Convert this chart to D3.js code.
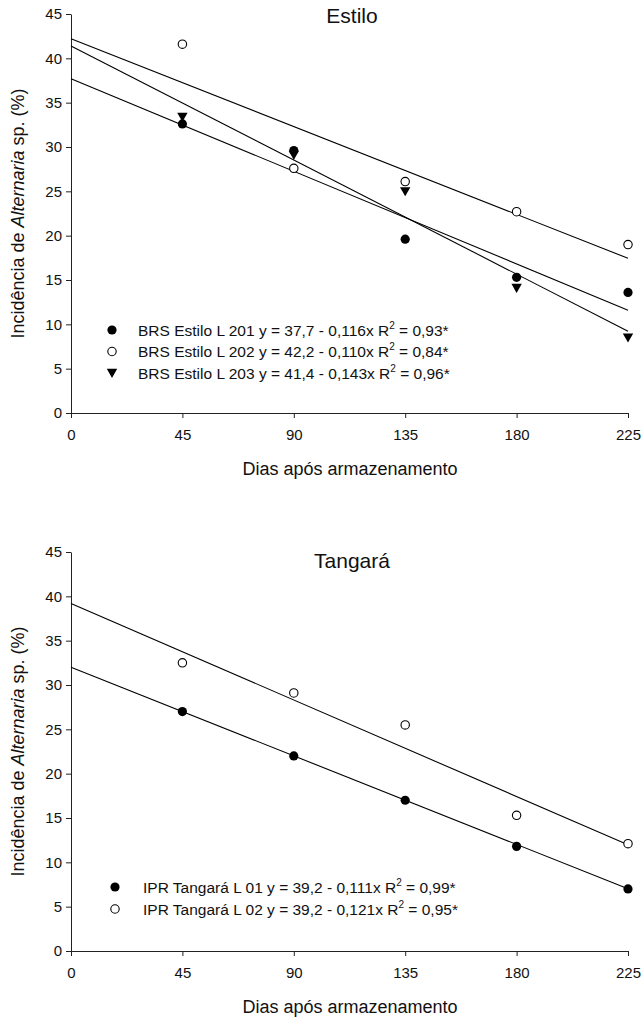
<!DOCTYPE html>
<html>
<head>
<meta charset="utf-8">
<script src="https://cdn.jsdelivr.net/npm/d3@7"></script>
<style>
  body { margin: 0; background: #fff; }
  svg { display: block; font-family: "Liberation Sans", Arial, sans-serif; }
</style>
</head>
<body>
<div id="chart"></div>
<script>
// Days after storage (x values of the observed points)
const days = [45, 90, 135, 180, 225];
const xTicks = [0, 45, 90, 135, 180, 225];
const yTicks = [0, 5, 10, 15, 20, 25, 30, 35, 40, 45];

// Estilo panel - observed incidence (%)
const estiloL201 = [32.6, 29.6, 19.6, 15.3, 13.6];
const estiloL202 = [41.6, 27.6, 26.1, 22.7, 19.0];
const estiloL203 = [33.4, 29.1, 25.0, 14.1, 8.5];
// fitted lines: intercept, slope
const estiloIntercepts = [37.7, 42.2, 41.4];
const estiloSlopes = [-0.116, -0.110, -0.143];
const estiloLabels = [
    ['BRS Estilo L 201 y = 37,7 - 0,116x R', ' = 0,93*'],
    ['BRS Estilo L 202 y = 42,2 - 0,110x R', ' = 0,84*'],
    ['BRS Estilo L 203 y = 41,4 - 0,143x R', ' = 0,96*']
];

// Tangará panel
const tangaraL01 = [27.0, 22.0, 17.0, 11.8, 7.0];
const tangaraL02 = [32.5, 29.1, 25.5, 15.3, 12.1];
const tangaraIntercepts = [32.0, 39.2];
const tangaraSlopes = [-0.111, -0.121];
const tangaraLabels = [
    ['IPR Tangará L 01 y = 39,2 - 0,111x R', ' = 0,99*'],
    ['IPR Tangará L 02 y = 39,2 - 0,121x R', ' = 0,95*']
];

const width = 643, height = 1017;

const svg = d3.select('#chart')
    .append('svg')
    .attr('width', width)
    .attr('height', height);

function drawPanel(opts) {
    const {top, bottom, title, titleY, series, intercepts, slopes, labels, symbols, legendX, legendTextX, legendY, legendStep, xTitleY} = opts;
    const left = 71, right = 628;

    const x = d3.scaleLinear().domain([0, 225]).range([left, right]);
    const y = d3.scaleLinear().domain([0, 45]).range([bottom, top]);

    const g = svg.append('g');

    // Y axis
    g.append('g')
        .attr('transform', `translate(${left},0)`)
        .call(d3.axisLeft(y).tickValues(yTicks).tickSize(5).tickSizeOuter(0).tickPadding(4))
        .call(a => a.select('.domain').attr('stroke', '#222'))
        .call(a => a.selectAll('.tick line').attr('stroke', '#222'))
        .call(a => a.selectAll('text').attr('font-size', '15px').attr('fill', '#111').attr('font-family', null));

    // X axis
    g.append('g')
        .attr('transform', `translate(0,${bottom})`)
        .call(d3.axisBottom(x).tickValues(xTicks).tickSize(5).tickSizeOuter(0).tickPadding(11))
        .call(a => a.select('.domain').attr('stroke', '#222'))
        .call(a => a.selectAll('.tick line').attr('stroke', '#222'))
        .call(a => a.selectAll('text').attr('font-size', '15px').attr('fill', '#111').attr('font-family', null));

    // Fitted lines
    intercepts.forEach((a, i) => {
        g.append('line')
            .attr('x1', x(0)).attr('y1', y(a))
            .attr('x2', x(225)).attr('y2', y(a + slopes[i] * 225))
            .attr('stroke', '#000')
            .attr('stroke-width', 1.1);
    });

    // Points
    series.forEach((vals, i) => {
        vals.forEach((v, j) => {
            drawSymbol(g, symbols[i], x(days[j]), y(v));
        });
    });

    // Legend
    labels.forEach((lab, i) => {
        const ly = legendY + i * legendStep;
        drawSymbol(g, symbols[i], legendX, ly);
        const t = g.append('text')
            .attr('x', legendTextX)
            .attr('y', ly + 5.5)
            .attr('font-size', '15.5px')
            .attr('fill', '#111');
        t.append('tspan').text(lab[0]);
        t.append('tspan').attr('font-size', '10px').attr('dy', -7).text('2');
        t.append('tspan').attr('dy', 7).text(lab[1]);
    });

    // Title
    g.append('text')
        .attr('x', 352)
        .attr('y', titleY)
        .attr('text-anchor', 'middle')
        .attr('font-size', '21px')
        .attr('fill', '#111')
        .text(title);

    // X title
    g.append('text')
        .attr('x', 350)
        .attr('y', xTitleY)
        .attr('text-anchor', 'middle')
        .attr('font-size', '18px')
        .attr('fill', '#111')
        .text('Dias após armazenamento');

    // Y title
    const yt = g.append('text')
        .attr('transform', `translate(24,${(top + bottom) / 2}) rotate(-90)`)
        .attr('text-anchor', 'middle')
        .attr('font-size', '18px')
        .attr('fill', '#111');
    yt.append('tspan').text('Incidência de ');
    yt.append('tspan').attr('font-style', 'italic').text('Alternaria');
    yt.append('tspan').text(' sp. (%)');
}

function drawSymbol(g, type, cx, cy) {
    if (type === 'filled') {
        g.append('circle').attr('cx', cx).attr('cy', cy).attr('r', 4.6).attr('fill', '#000');
    } else if (type === 'open') {
        g.append('circle').attr('cx', cx).attr('cy', cy).attr('r', 4.2)
            .attr('fill', '#fff').attr('stroke', '#000').attr('stroke-width', 1.1);
    } else {
        const s = 5.2;
        g.append('path')
            .attr('d', `M${cx - s},${cy - s * 0.8}L${cx + s},${cy - s * 0.8}L${cx},${cy + s * 0.95}Z`)
            .attr('fill', '#000');
    }
}

drawPanel({
    top: 14, bottom: 413,
    title: 'Estilo', titleY: 23,
    series: [estiloL201, estiloL202, estiloL203],
    intercepts: estiloIntercepts, slopes: estiloSlopes,
    labels: estiloLabels,
    symbols: ['filled', 'open', 'triangle'],
    legendX: 112, legendTextX: 138, legendY: 330, legendStep: 21.5,
    xTitleY: 475
});

drawPanel({
    top: 552, bottom: 951,
    title: 'Tangará', titleY: 568,
    series: [tangaraL01, tangaraL02],
    intercepts: tangaraIntercepts, slopes: tangaraSlopes,
    labels: tangaraLabels,
    symbols: ['filled', 'open'],
    legendX: 115, legendTextX: 143, legendY: 887, legendStep: 22,
    xTitleY: 1013
});
</script>
</body>
</html>
